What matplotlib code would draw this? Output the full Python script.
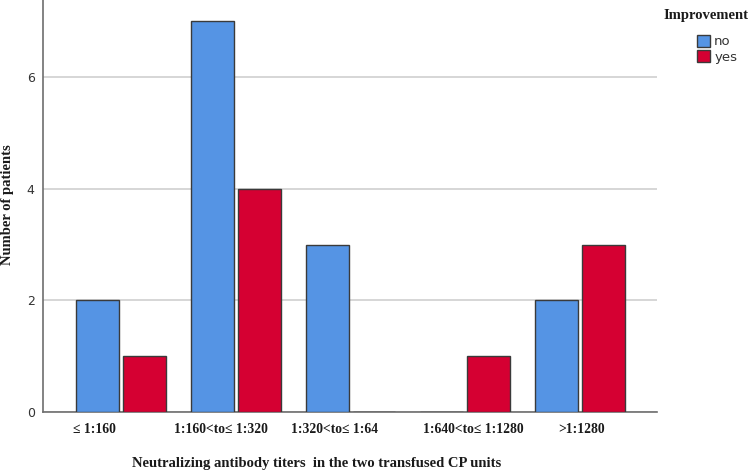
import numpy as np
import matplotlib
matplotlib.use("Agg")
import matplotlib.pyplot as plt
from matplotlib.patches import Patch

categories = ["\u2264 1:160", "1:160<to\u2264 1:320", "1:320<to\u2264 1:64",
              "1:640<to\u2264 1:1280", ">1:1280"]
no_counts = [2, 7, 3, 0, 2]
yes_counts = [1, 4, 0, 1, 3]
# labels sit slightly off the group centres in the original
label_shift = [-0.23, -0.13, -0.14, 0.07, 0.01]

blue = "#5594E4"
red = "#D50032"
edge = "#3a3a3a"

fig = plt.figure(figsize=(7.5, 4.72), dpi=100)
ax = fig.add_axes([0.0573, 0.1271, 0.8187, 0.8729])

x = np.arange(len(categories))
w = 0.374
off = 0.204
ax.bar(x - off, no_counts, w, color=blue, edgecolor=edge, linewidth=1, zorder=3)
ax.bar(x + off, yes_counts, w, color=red, edgecolor=edge, linewidth=1, zorder=3)

ax.set_xlim(-0.68, 4.67)
ax.set_ylim(0, 7.38)
ax.set_yticks([0, 2, 4, 6])
ax.yaxis.grid(True, color="#cfcfcf", linewidth=1.2, zorder=0)
ax.set_axisbelow(True)

for s in ["top", "right"]:
    ax.spines[s].set_visible(False)
for s in ["left", "bottom"]:
    ax.spines[s].set_color("#6e6e6e")
    ax.spines[s].set_linewidth(1.2)

ax.set_xticks(x + np.array(label_shift))
ax.set_xticklabels(categories, family="Liberation Serif", fontsize=9.8,
                   fontweight="bold", color="#1a1a1a")
ax.tick_params(axis="x", length=0, pad=8)
ax.tick_params(axis="y", length=0, pad=6, labelsize=9, colors="#333333")

fig.text(317 / 750, 1 - 463 / 472, "Neutralizing antibody titers  in the two transfused CP units",
         family="Liberation Serif", fontsize=10.5, fontweight="bold",
         ha="center", va="center", color="#1a1a1a")
fig.text(8 / 750, 1 - 205 / 472, "Number of patients", family="Liberation Serif",
         fontsize=10.5, fontweight="bold", rotation=90, ha="center", va="center",
         color="#1a1a1a")

handles = [Patch(facecolor=blue, edgecolor=edge, label="no"),
           Patch(facecolor=red, edgecolor=edge, label="yes")]
fig.text(706 / 750, 1 - 15 / 472, "Improvement", family="Liberation Serif",
         fontsize=10.5, fontweight="bold", ha="center", va="center", color="#1a1a1a")
leg = fig.legend(handles=handles, loc="upper left", bbox_to_anchor=(697 / 750, 1 - 35 / 472),
                 frameon=False, fontsize=9.5, handlelength=1.0, handleheight=1.0,
                 handletextpad=0.3, labelspacing=0.15, borderpad=0, borderaxespad=0)
for t in leg.get_texts():
    t.set_color("#333333")

fig.savefig("out.png", dpi=100)
